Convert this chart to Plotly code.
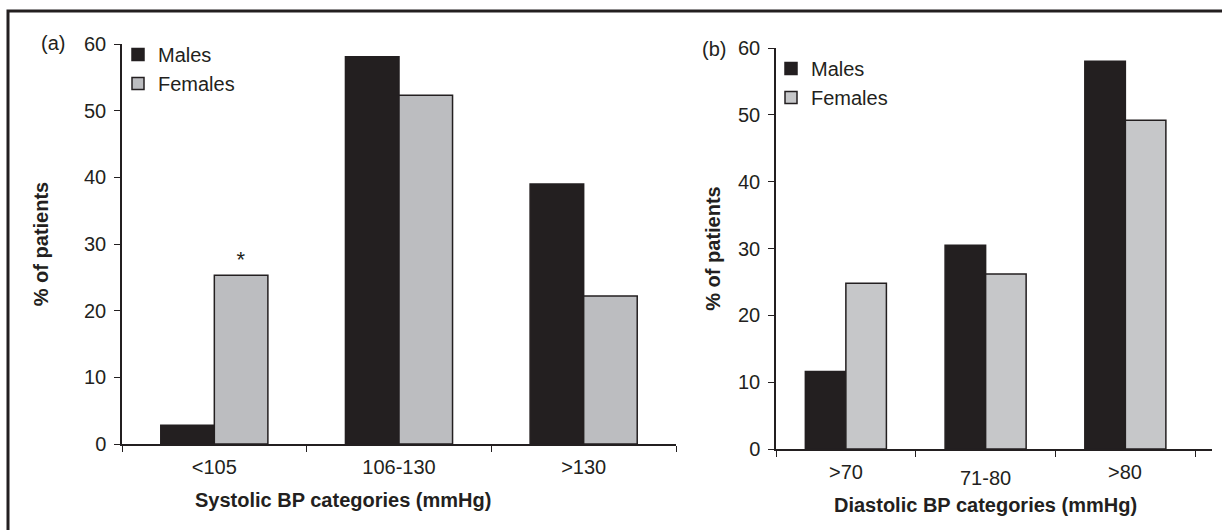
import plotly.graph_objects as go

# ---- data ----
sys_cats = ["<105", "106-130", ">130"]
sys_males = [2.8, 58.1, 39.0]
sys_females = [25.3, 52.3, 22.2]
sys_marks = ["*", "", ""]

dia_cats = [">70", "71-80", ">80"]
dia_males = [11.6, 30.5, 58.0]
dia_females = [24.8, 26.2, 49.2]

y_ticks = [0, 10, 20, 30, 40, 50, 60]

W, H = 1222, 530
INK = "#231f20"
FONT = "Liberation Sans, Arial, sans-serif"


def px(x):
    return x / W


def py(y):
    return 1 - y / H


def f(size=20):
    return dict(size=size, color=INK, family=FONT)


fig = go.Figure()

# panel (a)
fig.add_trace(go.Bar(x=sys_cats, y=sys_males, name="Males",
                     marker=dict(color=INK, line=dict(color=INK, width=1.5)),
                     xaxis="x", yaxis="y", legend="legend"))
fig.add_trace(go.Bar(x=sys_cats, y=sys_females, name="Females",
                     marker=dict(color="#bcbdc0", line=dict(color=INK, width=1.5)),
                     text=sys_marks, textposition="outside", cliponaxis=False,
                     textfont=f(22),
                     xaxis="x", yaxis="y", legend="legend"))
# panel (b)
fig.add_trace(go.Bar(x=dia_cats, y=dia_males, name="Males",
                     marker=dict(color=INK, line=dict(color=INK, width=1.5)),
                     xaxis="x2", yaxis="y2", legend="legend2"))
fig.add_trace(go.Bar(x=dia_cats, y=dia_females, name="Females",
                     marker=dict(color="#c6c7c9", line=dict(color=INK, width=1.5)),
                     xaxis="x2", yaxis="y2", legend="legend2"))

axis_common = dict(showline=True, linecolor=INK, linewidth=1.5, ticks="outside",
                   tickcolor=INK, ticklen=6, tickwidth=1, showgrid=False, zeroline=False,
                   automargin=False, ticklabelstandoff=4, tickfont=f(20))

fig.update_layout(
    template="none",
    width=W, height=H, autosize=False,
    margin=dict(l=0, r=0, t=0, b=0, pad=0),
    paper_bgcolor="white", plot_bgcolor="white",
    font=f(20),
    barmode="group", bargap=0.42, bargroupgap=0,
    showlegend=True,
    xaxis=dict(domain=[px(122), px(676)], range=[-0.5, 2.5], type="category",
               tickson="boundaries", anchor="y", **axis_common),
    yaxis=dict(domain=[py(444), py(44)], range=[0, 60], tickvals=y_ticks, anchor="x",
               title=dict(text="<b>% of patients</b>", standoff=30, font=f(20)),
               **axis_common),
    xaxis2=dict(domain=[px(776), px(1212)], range=[-0.5, 2.62], type="category",
                tickson="boundaries", anchor="y2", showticklabels=False,
                **axis_common),
    yaxis2=dict(domain=[py(449), py(48)], range=[0, 60], tickvals=y_ticks, anchor="x2",
                title=dict(text="<b>% of patients</b>", standoff=12, font=f(20)),
                **axis_common),
    legend=dict(x=px(118), y=py(35), xanchor="left", yanchor="top",
                bgcolor="rgba(0,0,0,0)", font=f(20), borderwidth=0,
                tracegroupgap=0, itemwidth=30),
    legend2=dict(x=px(771), y=py(49), xanchor="left", yanchor="top",
                 bgcolor="rgba(0,0,0,0)", font=f(20), borderwidth=0,
                 tracegroupgap=0, itemwidth=30),
)

# staggered category labels for panel (b)
for cat, shift in zip(dia_cats, [-23, -29, -23]):
    fig.add_annotation(x=cat, y=0, xref="x2", yref="y2", text=cat, showarrow=False,
                       yanchor="middle", yshift=shift, font=f(20))

# x-axis titles
fig.add_annotation(x=px(343), y=py(500), xref="paper", yref="paper",
                   text="<b>Systolic BP categories (mmHg)</b>", showarrow=False,
                   xanchor="center", yanchor="middle", font=f(20))
fig.add_annotation(x=px(985), y=py(505), xref="paper", yref="paper",
                   text="<b>Diastolic BP categories (mmHg)</b>", showarrow=False,
                   xanchor="center", yanchor="middle", font=f(20))

# panel letters
fig.add_annotation(x=px(53), y=py(43), xref="paper", yref="paper", text="(a)",
                   showarrow=False, xanchor="center", yanchor="middle", font=f(20))
fig.add_annotation(x=px(714), y=py(49), xref="paper", yref="paper", text="(b)",
                   showarrow=False, xanchor="center", yanchor="middle", font=f(20))

# outer frame
fig.add_shape(type="rect", xref="paper", yref="paper",
              x0=px(8), x1=px(1240), y0=py(11), y1=py(545),
              line=dict(color=INK, width=3), fillcolor="rgba(0,0,0,0)")

fig.write_html("out.html", config={"displayModeBar": False},
               post_script="document.body.style.margin='0';")
